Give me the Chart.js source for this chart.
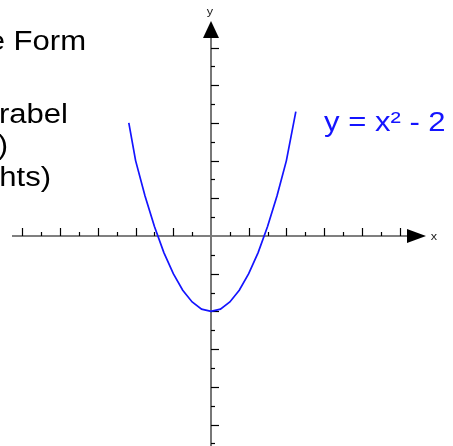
<!DOCTYPE html>
<html>
<head>
<meta charset="utf-8">
<script src="https://cdn.jsdelivr.net/npm/chart.js@4.4.1/dist/chart.umd.min.js"></script>
<style>
  html, body { margin: 0; padding: 0; background: #fff; }
  #wrap { width: 453px; height: 446px; }
</style>
</head>
<body>
<div id="wrap"><canvas id="parabel"></canvas></div>
<script>
// Punkte der Kurve y = x² - 2
const xValues = [-2.18, -2, -1.75, -1.5, -1.25, -1, -0.75, -0.5, -0.25, 0, 0.25, 0.5, 0.75, 1, 1.25, 1.5, 1.75, 2, 2.25];
const yValues = [3.0, 2, 1.06, 0.25, -0.44, -1, -1.44, -1.75, -1.94, -2, -1.94, -1.75, -1.44, -1, -0.44, 0.25, 1.06, 2, 3.3];

// Skalenstriche
const majorTicks = [-5, -4, -3, -2, -1, 1, 2, 3, 4, 5];
const minorTicks = [-5.5, -4.5, -3.5, -2.5, -1.5, -0.5, 0.5, 1.5, 2.5, 3.5, 4.5];

// Beschriftung links (abgeschnitten im Original)
const textLines = ["Allgemeine Form", "Normalparabel", "(verschoben)", "(nach rechts)"];
const curveLabel = "y = x² - 2";

const unit = 37.7;
const stretch = 1.15; // Text im Original breiter gezogen
const points = xValues.map((x, i) => ({ x: x, y: yValues[i] }));

function wideText(ctx, text, x, y, align) {
    ctx.save();
    ctx.translate(x, y);
    ctx.scale(stretch, 1);
    ctx.textAlign = align;
    ctx.fillText(text, 0, 0);
    ctx.restore();
}

const axesPlugin = {
    id: "axes",
    beforeDatasetsDraw(chart) {
        const ctx = chart.ctx;
        const xs = chart.scales.x;
        const ys = chart.scales.y;
        const x0 = xs.getPixelForValue(0);
        const y0 = ys.getPixelForValue(0);
        ctx.save();

        // x-Achse
        ctx.strokeStyle = "#000";
        ctx.lineWidth = 1.2;
        ctx.beginPath();
        ctx.moveTo(12, y0);
        ctx.lineTo(410, y0);
        ctx.stroke();
        ctx.fillStyle = "#000";
        ctx.beginPath();
        ctx.moveTo(407, y0 - 7);
        ctx.lineTo(426, y0);
        ctx.lineTo(407, y0 + 7);
        ctx.closePath();
        ctx.fill();

        majorTicks.forEach((v) => {
            const p = Math.round(xs.getPixelForValue(v)) + 0.5;
            ctx.beginPath();
            ctx.moveTo(p, y0);
            ctx.lineTo(p, y0 - 8);
            ctx.stroke();
        });
        minorTicks.forEach((v) => {
            const p = Math.round(xs.getPixelForValue(v)) + 0.5;
            if (p < 14) return;
            ctx.beginPath();
            ctx.moveTo(p, y0);
            ctx.lineTo(p, y0 - 4);
            ctx.stroke();
        });

        // y-Achse
        ctx.strokeStyle = "#777";
        ctx.lineWidth = 2;
        ctx.beginPath();
        ctx.moveTo(x0, chart.height);
        ctx.lineTo(x0, 36);
        ctx.stroke();
        ctx.fillStyle = "#000";
        ctx.beginPath();
        ctx.moveTo(x0 - 8, 38);
        ctx.lineTo(x0, 21);
        ctx.lineTo(x0 + 8, 38);
        ctx.closePath();
        ctx.fill();

        ctx.strokeStyle = "#000";
        ctx.lineWidth = 1.2;
        majorTicks.forEach((v) => {
            const p = Math.round(ys.getPixelForValue(v)) + 0.5;
            ctx.beginPath();
            ctx.moveTo(x0, p);
            ctx.lineTo(x0 + 8, p);
            ctx.stroke();
        });
        minorTicks.forEach((v) => {
            const p = Math.round(ys.getPixelForValue(v)) + 0.5;
            ctx.beginPath();
            ctx.moveTo(x0, p);
            ctx.lineTo(x0 + 4, p);
            ctx.stroke();
        });

        // Achsenbeschriftung
        ctx.fillStyle = "#222";
        ctx.font = "11px 'Liberation Sans', Arial, sans-serif";
        ctx.textBaseline = "middle";
        wideText(ctx, "y", x0 - 1, 12, "center");
        wideText(ctx, "x", 434, y0 + 1, "center");
        ctx.restore();
    },
    afterDraw(chart) {
        const ctx = chart.ctx;
        ctx.save();
        ctx.font = "27px 'Liberation Sans', Arial, sans-serif";
        ctx.fillStyle = "#000";
        ctx.textBaseline = "alphabetic";
        const rights = [86, 68, 8, 51];
        const bases = [50, 123, 154, 186];
        textLines.forEach((t, i) => wideText(ctx, t, rights[i], bases[i], "right"));

        ctx.font = "27px 'Liberation Sans', Arial, sans-serif";
        ctx.fillStyle = "#1414ff";
        wideText(ctx, curveLabel, 324, 131, "left");
        ctx.restore();
    },
};

new Chart(document.getElementById("parabel"), {
    type: "scatter",
    data: {
        datasets: [
            {
                data: points,
                showLine: true,
                borderColor: "#1414ff",
                borderWidth: 1.7,
                pointRadius: 0,
                tension: 0,
                fill: false,
            },
        ],
    },
    options: {
        responsive: true,
        maintainAspectRatio: false,
        animation: false,
        layout: { padding: 0 },
        plugins: {
            legend: { display: false },
            tooltip: { enabled: false },
        },
        scales: {
            x: { type: "linear", display: false, min: -211 / unit, max: 242 / unit },
            y: { type: "linear", display: false, min: -210 / unit, max: 236 / unit },
        },
    },
    plugins: [axesPlugin],
});
</script>
</body>
</html>
